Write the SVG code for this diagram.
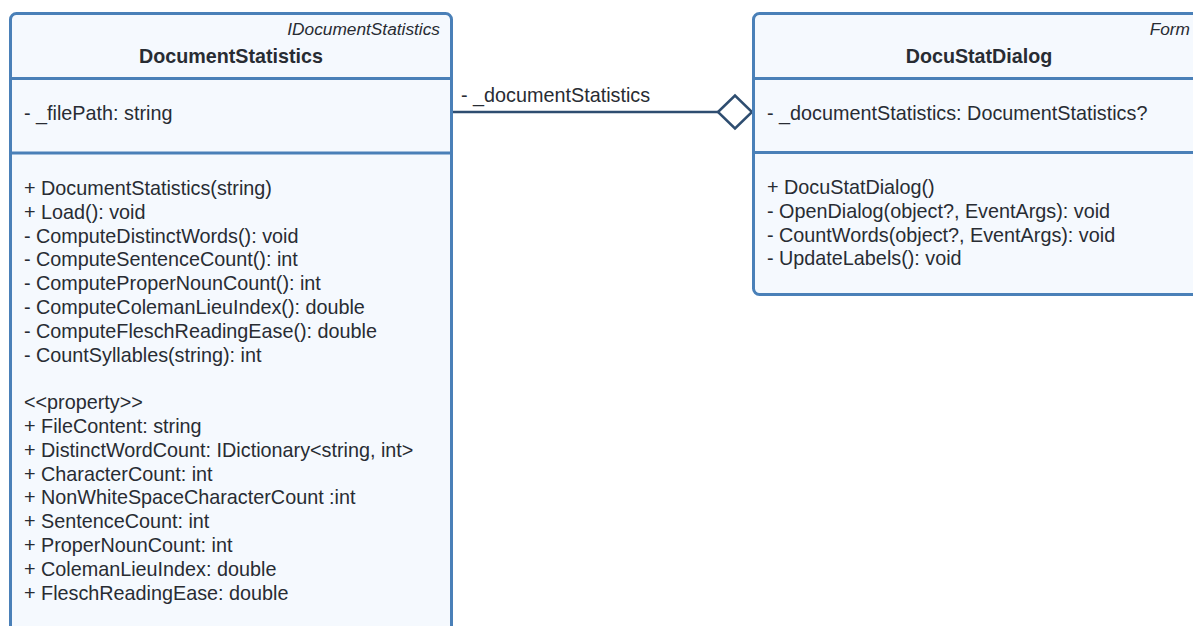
<svg xmlns="http://www.w3.org/2000/svg" width="1193" height="626" viewBox="0 0 1193 626">
  <style>
    .box { fill: #f5f9fe; stroke: #4a80b8; stroke-width: 3; }
    .div { stroke: #4a80b8; stroke-width: 3; fill: none; }
    text { font-family: "Liberation Sans", Arial, sans-serif; fill: #282c33; }
    .member { font-size: 19.8px; }
    .title { font-size: 19.7px; font-weight: bold; text-anchor: middle; }
    .stereo { font-size: 17.3px; font-style: italic; text-anchor: end; }
    .link { stroke: #2e4d70; stroke-width: 2.5; fill: none; }
    .agg { stroke: #2e4d70; stroke-width: 2.5; fill: #ffffff; stroke-linejoin: miter; }
  </style>

  <rect width="1193" height="626" fill="#ffffff"/>

  <!-- association: DocuStatDialog aggregates DocumentStatistics -->
  <g id="connectors">
    <line class="link" x1="452" y1="112" x2="718" y2="112"/>
    <polygon class="agg" points="718,112 735,95.5 752,112 735,128.5"/>
    <text class="member" x="461" y="101.5">- _documentStatistics</text>
  </g>

  <g id="DocumentStatistics">
    <rect class="box" x="10.5" y="13.5" width="441" height="640" rx="6" ry="6"/>
    <line class="div" x1="10.5" y1="78.5" x2="451.5" y2="78.5"/>
    <line class="div" x1="10.5" y1="153" x2="451.5" y2="153"/>
    <text class="stereo" x="440" y="34.5">IDocumentStatistics</text>
    <text class="title" x="231" y="62.5">DocumentStatistics</text>
    <text class="member" x="24" y="120">- _filePath: string</text>
    <text class="member" x="24" y="195">+ DocumentStatistics(string)</text>
    <text class="member" x="24" y="218.8">+ Load(): void</text>
    <text class="member" x="24" y="242.6">- ComputeDistinctWords(): void</text>
    <text class="member" x="24" y="266.4">- ComputeSentenceCount(): int</text>
    <text class="member" x="24" y="290.2">- ComputeProperNounCount(): int</text>
    <text class="member" x="24" y="314">- ComputeColemanLieuIndex(): double</text>
    <text class="member" x="24" y="337.8">- ComputeFleschReadingEase(): double</text>
    <text class="member" x="24" y="361.6">- CountSyllables(string): int</text>
    <text class="member" x="24" y="409.2">&lt;&lt;property&gt;&gt;</text>
    <text class="member" x="24" y="433">+ FileContent: string</text>
    <text class="member" x="24" y="456.8">+ DistinctWordCount: IDictionary&lt;string, int&gt;</text>
    <text class="member" x="24" y="480.6">+ CharacterCount: int</text>
    <text class="member" x="24" y="504.4">+ NonWhiteSpaceCharacterCount :int</text>
    <text class="member" x="24" y="528.2">+ SentenceCount: int</text>
    <text class="member" x="24" y="552">+ ProperNounCount: int</text>
    <text class="member" x="24" y="575.8">+ ColemanLieuIndex: double</text>
    <text class="member" x="24" y="599.6">+ FleschReadingEase: double</text>
  </g>

  <g id="DocuStatDialog">
    <rect class="box" x="753.5" y="13.5" width="450" height="281" rx="6" ry="6"/>
    <line class="div" x1="753.5" y1="78.5" x2="1203.5" y2="78.5"/>
    <line class="div" x1="753.5" y1="152.5" x2="1203.5" y2="152.5"/>
    <text class="stereo" x="1190" y="34.5">Form</text>
    <text class="title" x="979" y="62.5">DocuStatDialog</text>
    <text class="member" x="767" y="120">- _documentStatistics: DocumentStatistics?</text>
    <text class="member" x="767" y="194">+ DocuStatDialog()</text>
    <text class="member" x="767" y="217.8">- OpenDialog(object?, EventArgs): void</text>
    <text class="member" x="767" y="241.6">- CountWords(object?, EventArgs): void</text>
    <text class="member" x="767" y="265.4">- UpdateLabels(): void</text>
  </g>
</svg>
